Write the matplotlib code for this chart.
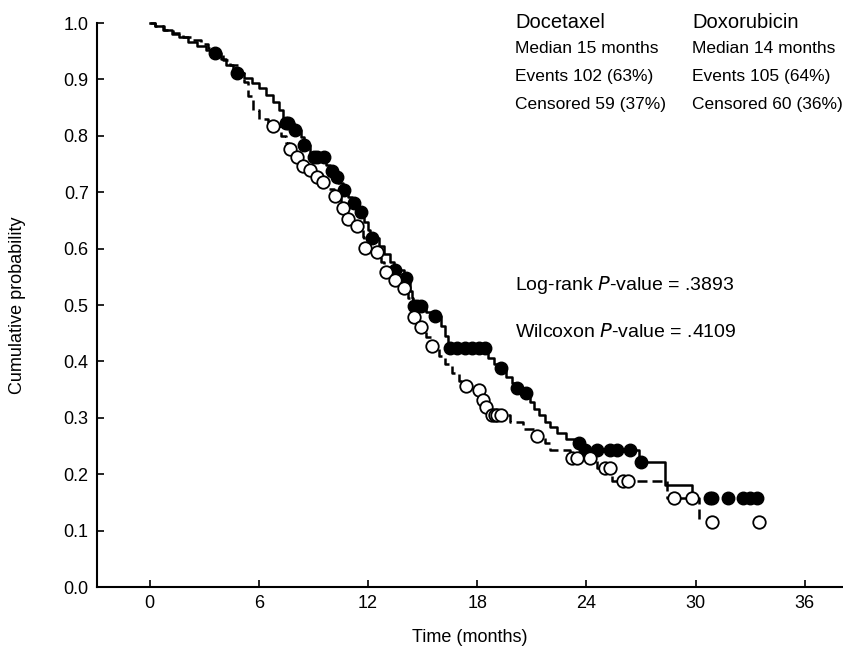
import numpy as np
import matplotlib
matplotlib.use("Agg")
import matplotlib.pyplot as plt

plt.rcParams['font.family'] = ['Liberation Sans', 'DejaVu Sans']

# Docetaxel (solid line, filled circles): event times and survival after each event
doc_t = [0.3, 0.7, 1.2, 1.6, 2.1, 2.6, 3.1, 3.4, 3.9, 4.2, 4.6, 5.2, 5.6, 6.0, 6.4, 6.8,
         7.1, 7.3, 7.45, 7.9, 8.3, 8.45, 8.8, 8.95, 9.7, 9.9, 10.05, 10.35, 10.6, 10.9,
         11.1, 11.4, 11.8, 12.0, 12.1, 12.6, 12.9, 13.2, 13.4, 14.0, 14.3, 14.4, 14.45,
         15.2, 15.6, 16.0, 16.2, 16.4, 18.6, 18.9, 19.2, 19.6, 19.9, 20.1, 20.6, 20.9,
         21.1, 21.4, 21.7, 22.0, 22.4, 22.9, 23.3, 23.7, 26.9, 28.3, 29.8]
doc_s = [.994, .988, .981, .975, .967, .960, .953, .947, .937, .926, .911, .903, .894, .884, .872, .860,
         .846, .830, .823, .810, .797, .784, .770, .762, .748, .737, .727, .716, .704, .692,
         .681, .665, .648, .633, .619, .605, .590, .576, .562, .548, .525, .512, .498,
         .488, .480, .462, .445, .424, .406, .396, .388, .372, .361, .353, .344, .328,
         .315, .305, .292, .283, .273, .262, .255, .243, .222, .181, .158]
doc_cens = [3.6, 4.8, 7.5, 7.6, 8.0, 8.5, 9.0, 9.2, 9.6, 10.0, 10.3, 10.7, 11.2, 11.6, 12.2,
            13.5, 14.1, 14.5, 14.7, 14.9, 15.7, 16.5, 16.9, 17.3, 17.7, 18.1, 18.4, 19.3,
            20.2, 20.7, 23.6, 23.9, 24.6, 25.3, 25.7, 26.4, 27.0, 30.8, 30.9, 31.8, 32.6,
            33.0, 33.4]
doc_end = 30.0

# Doxorubicin (dashed line, open circles)
dox_t = [0.3, 0.8, 1.3, 1.8, 2.3, 2.8, 3.2, 3.6, 4.0, 4.4, 4.9, 5.2, 5.4, 5.7, 6.0, 6.5,
         7.2, 7.5, 7.65, 8.0, 8.3, 8.7, 9.1, 9.4, 9.8, 10.1, 10.5, 10.8, 11.2, 11.7, 11.8,
         12.4, 12.7, 12.9, 13.4, 13.9, 14.2, 14.35, 14.45, 14.8, 15.2, 15.45, 15.9, 16.2,
         16.6, 17.0, 17.3, 18.0, 18.2, 18.45, 18.65, 19.8, 20.5, 21.2, 21.7, 22.0, 23.1,
         24.6, 25.4, 28.4, 30.2]
dox_s = [.994, .988, .982, .976, .969, .963, .955, .945, .935, .925, .912, .895, .870, .845, .830, .818,
         .800, .788, .776, .762, .746, .739, .727, .718, .706, .693, .672, .652, .640, .620, .601,
         .594, .577, .559, .544, .530, .512, .495, .479, .461, .444, .427, .410, .395,
         .380, .366, .356, .349, .332, .319, .305, .293, .280, .268, .255, .243, .229,
         .211, .188, .158, .115]
dox_cens = [6.8, 7.7, 8.1, 8.4, 8.8, 9.2, 9.5, 10.2, 10.6, 10.9, 11.4, 11.85, 12.5, 13.0,
            13.5, 14.0, 14.5, 14.9, 15.5, 17.4, 18.1, 18.3, 18.5, 18.8, 19.0, 19.1, 19.3,
            21.3, 23.2, 23.5, 24.2, 25.0, 25.3, 26.0, 26.3, 28.8, 29.8, 30.9, 33.5]
dox_end = 30.2


def km_steps(times, surv, end):
    x = np.concatenate([[0.0], times, [end]])
    y = np.concatenate([[1.0], surv, [surv[-1]]])
    return x, y


def surv_at(times, surv, t):
    idx = np.searchsorted(times, t, side="right")
    return np.concatenate([[1.0], surv])[idx]


fig = plt.figure(figsize=(8.43, 6.52), dpi=100)
ax = fig.add_axes([97 / 843, 1 - 587 / 652, 1 - 97 / 843, 564 / 652])

x, y = km_steps(doc_t, doc_s, doc_end)
ax.step(x, y, where="post", color="black", lw=1.8, clip_on=False)
x, y = km_steps(dox_t, dox_s, dox_end)
ax.step(x, y, where="post", color="black", lw=1.8, ls=(0, (4, 2)), clip_on=False)

ax.plot(doc_cens, surv_at(np.array(doc_t), np.array(doc_s), doc_cens), "o",
        color="black", ms=9, clip_on=False, zorder=3)
ax.plot(dox_cens, surv_at(np.array(dox_t), np.array(dox_s), dox_cens), "o",
        mfc="white", mec="black", mew=1.3, ms=9, clip_on=False, zorder=3)

ax.set_xlim(-2.9, 38.1)
ax.set_ylim(0, 1.0)
ax.set_xticks([0, 6, 12, 18, 24, 30, 36])
ax.set_yticks(np.arange(0, 1.01, 0.1))
ax.yaxis.set_major_formatter(plt.FormatStrFormatter("%.1f"))
ax.tick_params(direction="in", length=5, width=1.2, labelsize=13, pad=6)
for side in ["top", "right"]:
    ax.spines[side].set_visible(False)
for side in ["left", "bottom"]:
    ax.spines[side].set_linewidth(1.5)

ax.set_xlabel("Time (months)", fontsize=13, labelpad=12)
ax.set_ylabel("Cumulative probability", fontsize=13)
ax.yaxis.set_label_coords(-0.095, 0.5)

ax.text(20.1, 1.0, "Docetaxel", fontsize=14.5, va="center")
ax.text(20.1, 0.955, "Median 15 months", fontsize=12.5, va="center")
ax.text(20.1, 0.905, "Events 102 (63%)", fontsize=12.5, va="center")
ax.text(20.1, 0.855, "Censored 59 (37%)", fontsize=12.5, va="center")
ax.text(29.8, 1.0, "Doxorubicin", fontsize=14.5, va="center")
ax.text(29.8, 0.955, "Median 14 months", fontsize=12.5, va="center")
ax.text(29.8, 0.905, "Events 105 (64%)", fontsize=12.5, va="center")
ax.text(29.8, 0.855, "Censored 60 (36%)", fontsize=12.5, va="center")

ax.text(20.1, 0.535, "Log-rank $\\it{P}$-value = .3893", fontsize=14, va="center")
ax.text(20.1, 0.452, "Wilcoxon $\\it{P}$-value = .4109", fontsize=14, va="center")

fig.savefig("out.png", dpi=100)
